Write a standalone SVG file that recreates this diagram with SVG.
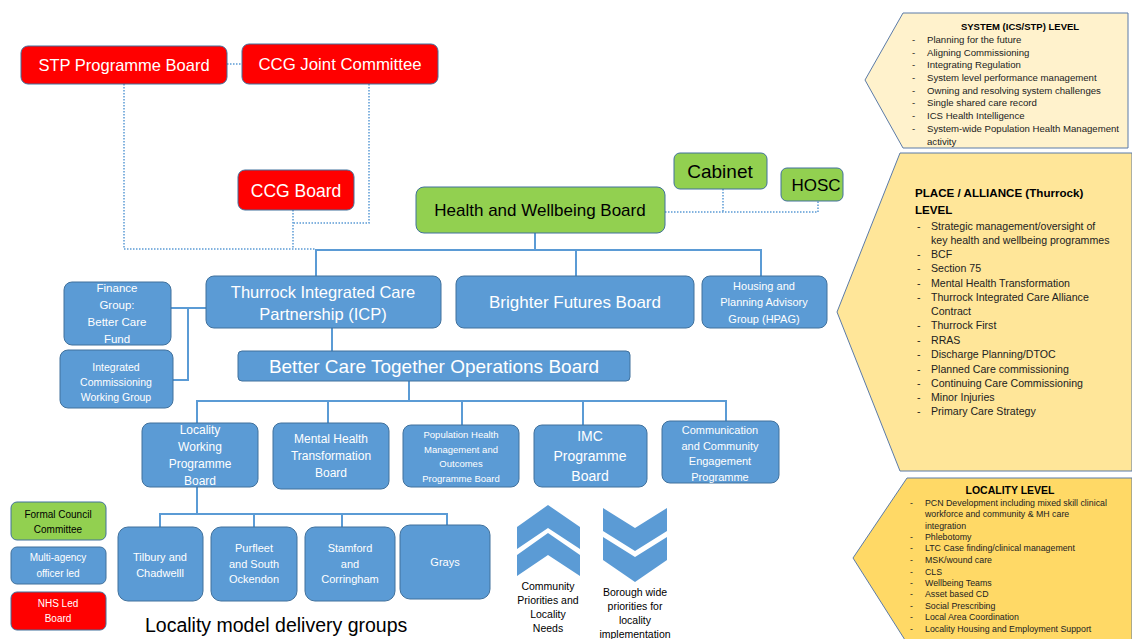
<svg xmlns="http://www.w3.org/2000/svg" width="1132" height="639" viewBox="0 0 1132 639">
<style>
text{font-family:"Liberation Sans",Arial,sans-serif;}
.b{fill:#5B9BD5;stroke:#41719C;stroke-width:1}
.r{fill:#FF0000;stroke:#41719C;stroke-width:1}
.g{fill:#92D050;stroke:#41719C;stroke-width:1}
.w{fill:#FFFFFF;text-anchor:middle}
.k{fill:#000000;text-anchor:middle}
.c{fill:none;stroke:#5B9BD5;stroke-width:2}
.d{fill:none;stroke:#5B9BD5;stroke-width:1.5;stroke-dasharray:1.5 1.5}
.pt{fill:#000;font-weight:bold}
.pi{fill:#222}
.chev{fill:#5B9BD5}
.ct{fill:#000;text-anchor:middle;font-size:10.5px}
</style>
<rect width="1132" height="639" fill="#FFFFFF"/>

<g id="connectors">
<path class="d" d="M227,64 H242"/>
<path class="d" d="M124,84 V249 H316"/>
<path class="d" d="M293,210 V249"/>
<path class="d" d="M369,84 V223 H293"/>
<path class="d" d="M665,212 H818 V201"/>
<path class="d" d="M723,189 V212"/>
<path class="c" d="M316,276 V250 H761 V276"/>
<path class="c" d="M535,233 V250"/>
<path class="c" d="M576,250 V276"/>
<path class="c" d="M171,308 H206"/>
<path class="c" d="M188,308 V380 H173"/>
<path class="c" d="M332,328 V351"/>
<path class="c" d="M409,381 V401"/>
<path class="c" d="M197,423 V401 H726 V421"/>
<path class="c" d="M328,401 V423"/>
<path class="c" d="M462,401 V425"/>
<path class="c" d="M583,401 V425"/>
<path class="c" d="M197,487 V514"/>
<path class="c" d="M160,527 V514 H447 V525"/>
<path class="c" d="M254,514 V527"/>
<path class="c" d="M342,514 V527"/>
</g>

<g id="stp">
<rect class="r" x="21" y="46" width="206" height="38" rx="7"/>
<text class="w" x="124" y="71" font-size="16.5">STP Programme Board</text>
</g>
<g id="ccgjc">
<rect class="r" x="242" y="44" width="196" height="40" rx="7"/>
<text class="w" x="340" y="70" font-size="16.8">CCG Joint Committee</text>
</g>
<g id="ccgboard">
<rect class="r" x="238" y="170" width="116" height="40" rx="7"/>
<text class="w" x="296" y="197" font-size="17.5">CCG Board</text>
</g>
<g id="hwb">
<rect class="g" x="416" y="187" width="249" height="46" rx="8"/>
<text class="k" x="540" y="216" font-size="17">Health and Wellbeing Board</text>
</g>
<g id="cabinet">
<rect class="g" x="674" y="153" width="93" height="36" rx="6"/>
<text class="k" x="720" y="178" font-size="19">Cabinet</text>
</g>
<g id="hosc">
<rect class="g" x="781" y="168" width="62" height="33" rx="6"/>
<text class="k" x="816" y="191" font-size="17">HOSC</text>
</g>

<g id="icp">
<rect class="b" x="206" y="276" width="235" height="52" rx="8"/>
<text class="w" x="323" y="298" font-size="16.5">Thurrock Integrated Care</text>
<text class="w" x="323" y="320" font-size="16.5">Partnership (ICP)</text>
</g>
<g id="brighter">
<rect class="b" x="456" y="276" width="238" height="52" rx="8"/>
<text class="w" x="575" y="308" font-size="17">Brighter Futures Board</text>
</g>
<g id="hpag">
<rect class="b" x="702" y="276" width="125" height="52" rx="8"/>
<text class="w" x="764" y="290" font-size="11">Housing and</text>
<text class="w" x="764" y="306" font-size="11">Planning Advisory</text>
<text class="w" x="764" y="323" font-size="11">Group (HPAG)</text>
</g>
<g id="finance">
<rect class="b" x="64" y="282" width="107" height="63" rx="8"/>
<text class="w" x="117" y="292" font-size="11.5">Finance</text>
<text class="w" x="117" y="309" font-size="11.5">Group:</text>
<text class="w" x="117" y="326" font-size="11.5">Better Care</text>
<text class="w" x="117" y="343" font-size="11.5">Fund</text>
</g>
<g id="icwg">
<rect class="b" x="60" y="350" width="113" height="58" rx="8"/>
<text class="w" x="116" y="371" font-size="10.5">Integrated</text>
<text class="w" x="116" y="386" font-size="10.5">Commissioning</text>
<text class="w" x="116" y="401" font-size="10.5">Working Group</text>
</g>
<g id="bct">
<rect class="b" x="238" y="351" width="392" height="30" rx="4"/>
<text class="w" x="434" y="373" font-size="19">Better Care Together Operations Board</text>
</g>

<g id="lwpb">
<rect class="b" x="142" y="423" width="116" height="64" rx="8"/>
<text class="w" x="200" y="434" font-size="12">Locality</text>
<text class="w" x="200" y="451" font-size="12">Working</text>
<text class="w" x="200" y="468" font-size="12">Programme</text>
<text class="w" x="200" y="485" font-size="12">Board</text>
</g>
<g id="mhtb">
<rect class="b" x="273" y="423" width="116" height="66" rx="8"/>
<text class="w" x="331" y="443" font-size="12">Mental Health</text>
<text class="w" x="331" y="460" font-size="12">Transformation</text>
<text class="w" x="331" y="477" font-size="12">Board</text>
</g>
<g id="phm">
<rect class="b" x="403" y="425" width="116" height="62" rx="8"/>
<text class="w" x="461" y="438" font-size="9.5">Population Health</text>
<text class="w" x="461" y="453" font-size="9.5">Management and</text>
<text class="w" x="461" y="467" font-size="9.5">Outcomes</text>
<text class="w" x="461" y="482" font-size="9.5">Programme Board</text>
</g>
<g id="imc">
<rect class="b" x="534" y="425" width="113" height="62" rx="8"/>
<text class="w" x="590" y="441" font-size="14">IMC</text>
<text class="w" x="590" y="461" font-size="14">Programme</text>
<text class="w" x="590" y="481" font-size="14">Board</text>
</g>
<g id="comm">
<rect class="b" x="662" y="421" width="117" height="62" rx="8"/>
<text class="w" x="720" y="434" font-size="11">Communication</text>
<text class="w" x="720" y="450" font-size="11">and Community</text>
<text class="w" x="720" y="465" font-size="11">Engagement</text>
<text class="w" x="720" y="481" font-size="11">Programme</text>
</g>

<g id="tilbury">
<rect class="b" x="118" y="527" width="85" height="74" rx="10"/>
<text class="w" x="160" y="561" font-size="11">Tilbury and</text>
<text class="w" x="160" y="577" font-size="11">Chadwelll</text>
</g>
<g id="purfleet">
<rect class="b" x="211" y="527" width="86" height="74" rx="10"/>
<text class="w" x="254" y="552" font-size="11">Purfleet</text>
<text class="w" x="254" y="568" font-size="11">and South</text>
<text class="w" x="254" y="583" font-size="11">Ockendon</text>
</g>
<g id="stamford">
<rect class="b" x="305" y="527" width="90" height="74" rx="10"/>
<text class="w" x="350" y="552" font-size="11">Stamford</text>
<text class="w" x="350" y="568" font-size="11">and</text>
<text class="w" x="350" y="583" font-size="11">Corringham</text>
</g>
<g id="grays">
<rect class="b" x="400" y="525" width="90" height="74" rx="10"/>
<text class="w" x="445" y="566" font-size="11">Grays</text>
</g>
<text x="145" y="632" font-size="19.5" fill="#000">Locality model delivery groups</text>

<g id="legend-council">
<rect class="g" x="11" y="502" width="95" height="38" rx="6"/>
<text class="k" x="58" y="518" font-size="10">Formal Council</text>
<text class="k" x="58" y="533" font-size="10">Committee</text>
</g>
<g id="legend-multi">
<rect class="b" x="11" y="547" width="95" height="37" rx="6"/>
<text class="w" x="58" y="561" font-size="10">Multi-agency</text>
<text class="w" x="58" y="577" font-size="10">officer led</text>
</g>
<g id="legend-nhs">
<rect class="r" x="11" y="592" width="95" height="38" rx="6"/>
<text class="w" x="58" y="607" font-size="10">NHS Led</text>
<text class="w" x="58" y="622" font-size="10">Board</text>
</g>

<g id="community-chevron">
<polygon class="chev" points="517,527 548,505 580,527 580,549 548,528 517,549"/>
<polygon class="chev" points="517,555 548,533 580,555 580,576 548,555 517,576"/>
<text class="ct" x="548" y="590">Community</text>
<text class="ct" x="548" y="604">Priorities and</text>
<text class="ct" x="548" y="618">Locality</text>
<text class="ct" x="548" y="632">Needs</text>
</g>
<g id="borough-chevron">
<polygon class="chev" points="603,508 635,528 667,508 667,531 635,551 603,531"/>
<polygon class="chev" points="603,537 635,557 667,537 667,560 635,582 603,560"/>
<text class="ct" x="635" y="596">Borough wide</text>
<text class="ct" x="635" y="610">priorities for</text>
<text class="ct" x="635" y="624">locality</text>
<text class="ct" x="635" y="638">implementation</text>
</g>

<g id="system-level">
<polygon points="903,13 1128,13 1128,148 903,148 865,80" fill="#FFF2CC" stroke="#5B7BA8" stroke-width="1"/>
<text class="pt" x="1020" y="30" font-size="9.5" text-anchor="middle">SYSTEM (ICS/STP) LEVEL</text>
<g font-size="9.6" class="pi">
<text x="912" y="43">-</text><text x="927" y="43">Planning for the future</text>
<text x="912" y="56">-</text><text x="927" y="56">Aligning Commissioning</text>
<text x="912" y="68">-</text><text x="927" y="68">Integrating Regulation</text>
<text x="912" y="81">-</text><text x="927" y="81">System level  performance management</text>
<text x="912" y="94">-</text><text x="927" y="94">Owning and resolving system challenges</text>
<text x="912" y="106">-</text><text x="927" y="106">Single shared care record</text>
<text x="912" y="119">-</text><text x="927" y="119">ICS Health Intelligence</text>
<text x="912" y="132">-</text><text x="927" y="132">System-wide Population Health Management</text>
<text x="927" y="145">activity</text>
</g>
</g>

<g id="place-level">
<polygon points="900,153 1132,153 1132,471 900,471 837,312" fill="#FFE699" stroke="#5B7BA8" stroke-width="1"/>
<text class="pt" x="915" y="197" font-size="11.6">PLACE / ALLIANCE (Thurrock)</text>
<text class="pt" x="915" y="214" font-size="11.6">LEVEL</text>
<g font-size="10.6" class="pi">
<text x="917" y="230">-</text><text x="931" y="230">Strategic management/oversight of</text>
<text x="931" y="244">key health and wellbeing programmes</text>
<text x="917" y="258">-</text><text x="931" y="258">BCF</text>
<text x="917" y="272">-</text><text x="931" y="272">Section 75</text>
<text x="917" y="287">-</text><text x="931" y="287">Mental Health Transformation</text>
<text x="917" y="301">-</text><text x="931" y="301">Thurrock Integrated Care Alliance</text>
<text x="931" y="315">Contract</text>
<text x="917" y="329">-</text><text x="931" y="329">Thurrock First</text>
<text x="917" y="344">-</text><text x="931" y="344">RRAS</text>
<text x="917" y="358">-</text><text x="931" y="358">Discharge Planning/DTOC</text>
<text x="917" y="373">-</text><text x="931" y="373">Planned Care commissioning</text>
<text x="917" y="387">-</text><text x="931" y="387">Continuing Care Commissioning</text>
<text x="917" y="401">-</text><text x="931" y="401">Minor Injuries</text>
<text x="917" y="415">-</text><text x="931" y="415">Primary Care Strategy</text>
</g>
</g>

<g id="locality-level">
<polygon points="907,478 1132,478 1132,640 905,640 853,558" fill="#FFD966" stroke="#5B7BA8" stroke-width="1"/>
<text class="pt" x="1010" y="494" font-size="10.5" text-anchor="middle">LOCALITY LEVEL</text>
<g font-size="8.8" class="pi">
<text x="910" y="506">-</text><text x="925" y="506">PCN Development including mixed skill clinical</text>
<text x="925" y="517">workforce and community &amp; MH care</text>
<text x="925" y="529">integration</text>
<text x="910" y="540">-</text><text x="925" y="540">Phlebotomy</text>
<text x="910" y="551">-</text><text x="925" y="551">LTC Case finding/clinical management</text>
<text x="910" y="563">-</text><text x="925" y="563">MSK/wound care</text>
<text x="910" y="575">-</text><text x="925" y="575">CLS</text>
<text x="910" y="586">-</text><text x="925" y="586">Wellbeing Teams</text>
<text x="910" y="597">-</text><text x="925" y="597">Asset based CD</text>
<text x="910" y="609">-</text><text x="925" y="609">Social Prescribing</text>
<text x="910" y="620">-</text><text x="925" y="620">Local Area Coordination</text>
<text x="910" y="632">-</text><text x="925" y="632">Locality Housing and Employment Support</text>
</g>
</g>
</svg>
